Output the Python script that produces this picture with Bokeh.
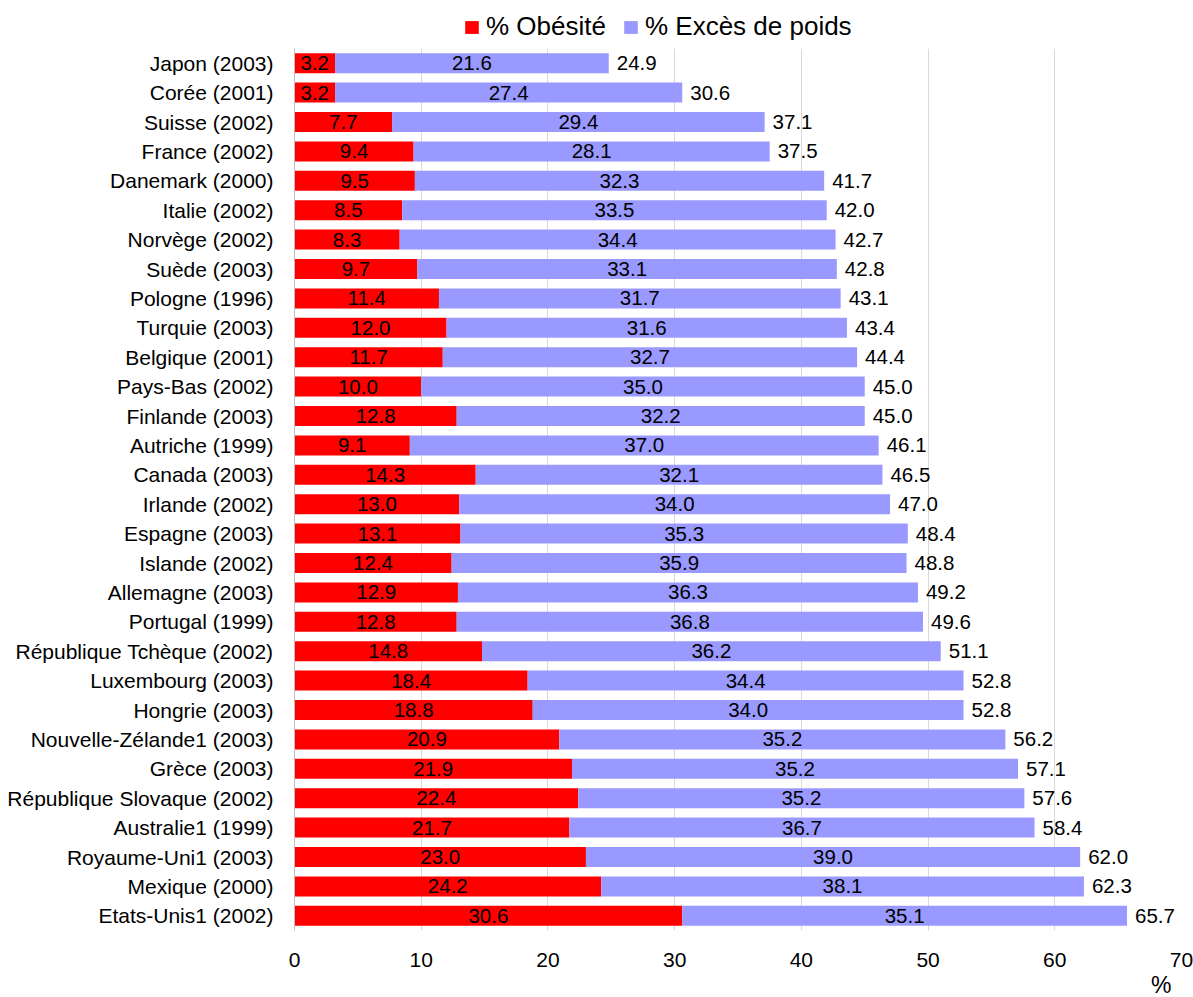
from bokeh.plotting import figure
from bokeh.layouts import column
from bokeh.models import (ColumnDataSource, FactorRange, Range1d, Legend, LegendItem,
                          Title, FixedTicker)
from bokeh.core.properties import value
from bokeh.embed import file_html
from bokeh.resources import INLINE

categories = ["Japon (2003)", "Corée (2001)", "Suisse (2002)", "France (2002)", "Danemark (2000)",
              "Italie (2002)", "Norvège (2002)", "Suède (2003)", "Pologne (1996)", "Turquie (2003)",
              "Belgique (2001)", "Pays-Bas (2002)", "Finlande (2003)", "Autriche (1999)", "Canada (2003)",
              "Irlande (2002)", "Espagne (2003)", "Islande (2002)", "Allemagne (2003)", "Portugal (1999)",
              "République Tchèque (2002)", "Luxembourg (2003)", "Hongrie (2003)",
              "Nouvelle-Zélande1 (2003)", "Grèce (2003)", "République Slovaque (2002)",
              "Australie1 (1999)", "Royaume-Uni1 (2003)", "Mexique (2000)", "Etats-Unis1 (2002)"]
obesite = [3.2, 3.2, 7.7, 9.4, 9.5, 8.5, 8.3, 9.7, 11.4, 12.0, 11.7, 10.0, 12.8, 9.1, 14.3,
           13.0, 13.1, 12.4, 12.9, 12.8, 14.8, 18.4, 18.8, 20.9, 21.9, 22.4, 21.7, 23.0, 24.2, 30.6]
exces = [21.6, 27.4, 29.4, 28.1, 32.3, 33.5, 34.4, 33.1, 31.7, 31.6, 32.7, 35.0, 32.2, 37.0, 32.1,
         34.0, 35.3, 35.9, 36.3, 36.8, 36.2, 34.4, 34.0, 35.2, 35.2, 35.2, 36.7, 39.0, 38.1, 35.1]
total = [24.9, 30.6, 37.1, 37.5, 41.7, 42.0, 42.7, 42.8, 43.1, 43.4, 44.4, 45.0, 45.0, 46.1, 46.5,
         47.0, 48.4, 48.8, 49.2, 49.6, 51.1, 52.8, 52.8, 56.2, 57.1, 57.6, 58.4, 62.0, 62.3, 65.7]
series_names = ["% Obésité", "% Excès de poids"]
x_ticks = [0, 10, 20, 30, 40, 50, 60, 70]

RED = "#FF0000"
BLUE = "#9999FF"
FONT = "Liberation Sans"

ends = [o + e for o, e in zip(obesite, exces)]
src = ColumnDataSource(dict(
    cat=categories, ob=obesite, ex=exces, end=ends, zero=[0] * len(categories),
    ob_mid=[o / 2 for o in obesite],
    ex_mid=[o + e / 2 for o, e in zip(obesite, exces)],
    ob_lab=["%.1f" % v for v in obesite],
    ex_lab=["%.1f" % v for v in exces],
    tot_lab=["%.1f" % v for v in total],
))

# ---- legend strip on top (frame aligned with the main chart's frame) ----
top = figure(width=1193, height=48, output_backend="svg", toolbar_location=None,
             x_range=Range1d(0, 1), y_range=Range1d(0, 1),
             min_border_left=294, min_border_right=12, min_border_top=0, min_border_bottom=0)
top.axis.visible = False
top.grid.visible = False
top.outline_line_color = None
leg_src = ColumnDataSource(dict(y=[0], left=[0], right=[0]))
l1 = top.hbar(y="y", left="left", right="right", height=0, color=RED, line_color=None, source=leg_src)
l2 = top.hbar(y="y", left="left", right="right", height=0, color=BLUE, line_color=None, source=leg_src)
legend = Legend(items=[LegendItem(label=series_names[0], renderers=[l1]),
                       LegendItem(label=series_names[1], renderers=[l2])],
                orientation="horizontal", location=(169, 6),
                label_text_font=FONT, label_text_font_size="26px", label_text_color="black",
                glyph_width=17, glyph_height=16, label_standoff=6, spacing=16,
                padding=0, margin=0, border_line_color=None, background_fill_alpha=0)
top.add_layout(legend, "center")

# ---- main chart ----
p = figure(width=1193, height=949, output_backend="svg", toolbar_location=None,
           y_range=FactorRange(*reversed(categories)), x_range=Range1d(0, 70),
           min_border_left=294, min_border_right=12, min_border_top=0, min_border_bottom=67)
p.outline_line_color = None

p.hbar(y="cat", left="zero", right="ob", height=0.68, color=RED, line_color=None, source=src)
p.hbar(y="cat", left="ob", right="end", height=0.68, color=BLUE, line_color=None, source=src)

common = dict(source=src, text_font=value(FONT), text_font_size="20.5px", text_color="black",
              text_baseline="middle")
p.text(x="ob_mid", y="cat", text="ob_lab", text_align="center", **common)
p.text(x="ex_mid", y="cat", text="ex_lab", text_align="center", **common)
p.text(x="end", y="cat", text="tot_lab", text_align="left", x_offset=8, **common)

p.xaxis.ticker = FixedTicker(ticks=x_ticks)
p.xaxis.axis_line_color = None
p.xaxis.major_tick_line_color = None
p.xaxis.minor_tick_line_color = None
p.xaxis.major_label_standoff = 16
p.xaxis.major_label_text_font = FONT
p.xaxis.major_label_text_font_size = "21px"
p.xaxis.major_label_text_color = "black"

p.yaxis.axis_line_color = "#BFBFBF"
p.yaxis.major_tick_line_color = None
p.yaxis.minor_tick_line_color = None
p.yaxis.major_label_standoff = 15
p.yaxis.major_label_text_font = FONT
p.yaxis.major_label_text_font_size = "21px"
p.yaxis.major_label_text_color = "black"

p.xgrid.grid_line_color = "#D9D9D9"
p.xgrid.ticker = FixedTicker(ticks=x_ticks[1:])
p.ygrid.grid_line_color = None

p.add_layout(Title(text="%", align="right", offset=10, standoff=0,
                   text_font=FONT, text_font_size="23px", text_font_style="normal",
                   text_line_height=0.8, text_color="black"), "below")

layout = column(top, p, spacing=0)
open("out.html", "w").write(file_html(layout, INLINE))
